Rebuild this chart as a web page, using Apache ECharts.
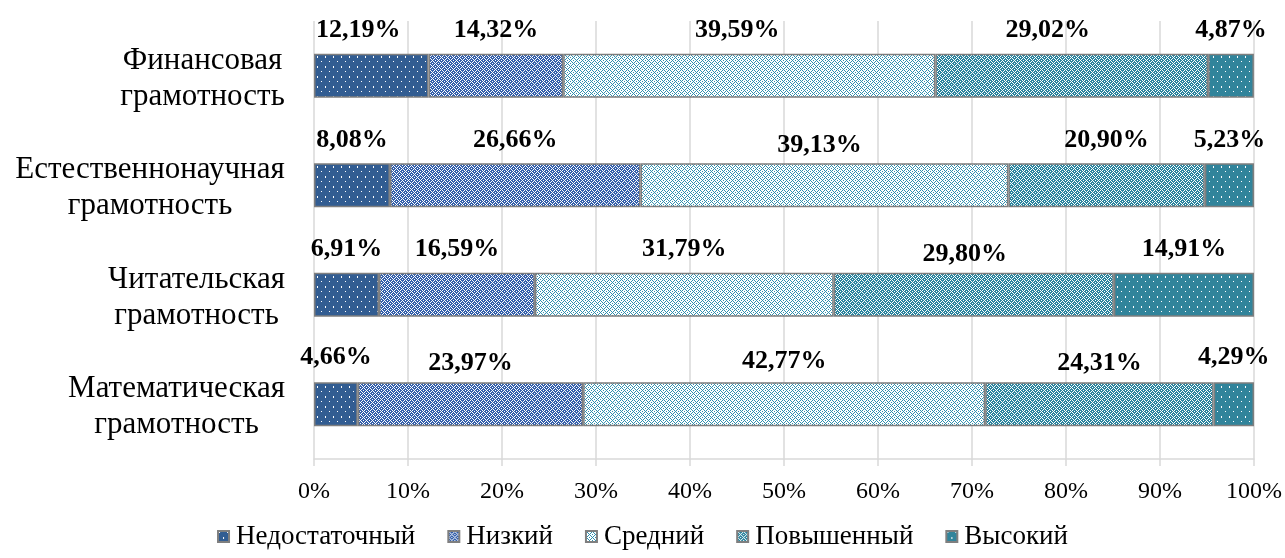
<!DOCTYPE html>
<html>
<head>
<meta charset="utf-8">
<script src="https://cdn.jsdelivr.net/npm/echarts@6/dist/echarts.min.js"></script>
<style>
  html, body { margin: 0; padding: 0; background: #fff; }
  #chart { width: 1285px; height: 558px; }
</style>
</head>
<body>
<div id="chart"></div>
<script>
// категории сверху вниз
const categories = [
  'Финансовая\nграмотность',
  'Естественнонаучная\nграмотность',
  'Читательская\nграмотность',
  'Математическая\nграмотность'
];
const levelNames = ['Недостаточный', 'Низкий', 'Средний', 'Повышенный', 'Высокий'];
// доли уровней, % (по категориям сверху вниз)
const insufficient = [12.19, 8.08, 6.91, 4.66];
const low = [14.32, 26.66, 16.59, 23.97];
const medium = [39.59, 39.13, 31.79, 42.77];
const elevated = [29.02, 20.90, 29.80, 24.31];
const high = [4.87, 5.23, 14.91, 4.29];
const xTicks = [0, 10, 20, 30, 40, 50, 60, 70, 80, 90, 100];

const levelValues = [insufficient, low, medium, elevated, high];

// ручные сдвиги подписей [dx, dy], как они были подвинуты в Excel
const labelNudge = [
  [[-13, 0], [0, 0], [0, 0], [0, -2]],
  [[0, 0], [0, 0], [0, 0], [0, 4]],
  [[-12, 0], [-5, 5], [0, 0], [0, 2]],
  [[-24, 0], [0, 0], [-9, 5], [0, 4]],
  [[0, 0], [0, 0], [0, 0], [0, -2]]
];

const FONT = '"Liberation Serif", "Times New Roman", serif';

// штриховки как в Excel: точки и ромбическая сетка
function dotTile (bg) {
  const c = document.createElement('canvas');
  c.width = 8; c.height = 10;
  const ctx = c.getContext('2d');
  ctx.fillStyle = bg;
  ctx.fillRect(0, 0, 8, 10);
  ctx.fillStyle = '#fff';
  ctx.fillRect(1, 1, 1, 1);
  ctx.fillRect(5, 6, 1, 2);
  return { image: c, repeat: 'repeat' };
}

function latticeTile (bg, fg) {
  const n = 6;
  const c = document.createElement('canvas');
  c.width = n; c.height = n;
  const ctx = c.getContext('2d');
  ctx.fillStyle = bg;
  ctx.fillRect(0, 0, n, n);
  ctx.fillStyle = fg;
  for (let x = 0; x < n; x++) {
    for (let y = 0; y < n; y++) {
      if ((x + y) % n === 0 || (x - y + n) % n === 0 || (x + y) % n === 3 && x % 3 === 0) {
        ctx.fillRect(x, y, 1, 1);
      }
    }
  }
  return { image: c, repeat: 'repeat' };
}

const fills = [
  dotTile('#325d92'),
  latticeTile('#3460ab', '#ffffff'),
  latticeTile('#ffffff', '#2f8fae'),
  latticeTile('#2a849e', '#ffffff'),
  dotTile('#31849b')
];

// ширина самой длинной строки подписи — чтобы строки центрировались как в Excel
const CAT_SIZE = 31;
const measureCtx = document.createElement('canvas').getContext('2d');
measureCtx.font = CAT_SIZE + 'px ' + FONT;
const rich = {};
categories.forEach((cat, i) => {
  const w = Math.max(...cat.split('\n').map(s => measureCtx.measureText(s).width));
  rich['c' + i] = {
    width: Math.ceil(w),
    align: 'center',
    fontSize: CAT_SIZE,
    fontFamily: FONT,
    color: '#000',
    lineHeight: 36
  };
});

const chart = echarts.init(document.getElementById('chart'));

const series = levelNames.map((name, k) => ({
  name: name,
  type: 'bar',
  stack: 'total',
  barWidth: 44,
  data: levelValues[k].map((v, i) => ({
    value: v,
    label: { offset: labelNudge[k][i] }
  })),
  itemStyle: {
    color: fills[k],
    borderColor: '#7f7f7f',
    borderWidth: 1.5
  },
  label: {
    show: true,
    position: 'top',
    distance: 10,
    color: '#000',
    fontSize: 26,
    fontWeight: 'bold',
    fontFamily: FONT,
    formatter: p => p.value.toFixed(2).replace('.', ',') + '%'
  }
}));

chart.setOption({
  animation: false,
  grid: {
    left: 314,
    right: 31,
    top: 21,
    bottom: 99
  },
  legend: {
    bottom: 3,
    left: 'center',
    icon: 'rect',
    itemWidth: 11,
    itemHeight: 11,
    itemGap: 32,
    textStyle: {
      fontSize: 27,
      fontFamily: FONT,
      color: '#000',
      padding: [0, 0, 0, 2]
    },
    data: levelNames
  },
  xAxis: {
    type: 'value',
    min: xTicks[0],
    max: xTicks[xTicks.length - 1],
    interval: 10,
    axisLine: { show: true, lineStyle: { color: '#d9d9d9', width: 1.5 } },
    axisTick: { show: true, length: 7, lineStyle: { color: '#d9d9d9', width: 1.5 } },
    splitLine: { show: true, lineStyle: { color: '#d9d9d9', width: 1.5 } },
    axisLabel: {
      margin: 21,
      fontSize: 24,
      fontFamily: FONT,
      color: '#000',
      formatter: '{value}%'
    }
  },
  yAxis: {
    type: 'category',
    inverse: true,
    data: categories,
    axisLine: { show: false },
    axisTick: { show: false },
    axisLabel: {
      margin: 29,
      padding: [6, 0, 0, 0],
      formatter: (value, index) => value.split('\n').map(s => '{c' + index + '|' + s + '}').join('\n'),
      rich: rich
    }
  },
  series: series
});
</script>
</body>
</html>
